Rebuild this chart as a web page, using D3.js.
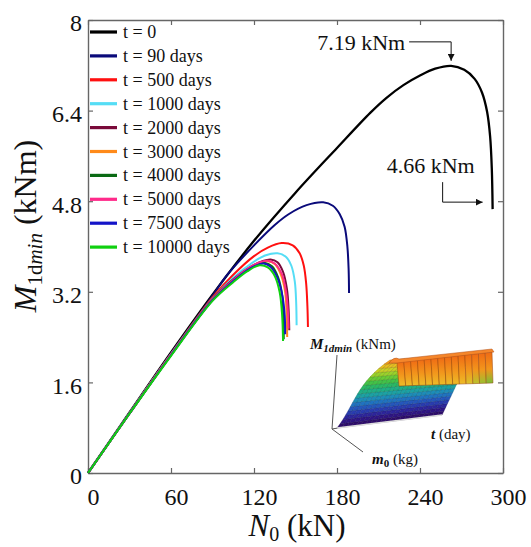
<!DOCTYPE html>
<html>
<head>
<meta charset="utf-8">
<script src="https://cdn.jsdelivr.net/npm/d3@7"></script>
<style>
  body { margin: 0; background: #fff; }
  svg { display: block; }
  text { font-family: "Liberation Serif", "Times New Roman", serif; fill: #111; }
</style>
</head>
<body>
<svg id="chart" width="531" height="547"></svg>
<script>
// tick values
const xTicks = [0, 60, 120, 180, 240, 300];
const yTicks = [0, 1.6, 3.2, 4.8, 6.4, 8];

// legend labels (in drawing order)
const labels = ['t = 0', 't = 90 days', 't = 500 days', 't = 1000 days', 't = 2000 days',
  't = 3000 days', 't = 4000 days', 't = 5000 days', 't = 7500 days', 't = 10000 days'];
const colors = ['#000000', '#0a0a7a', '#ff1010', '#55ddf5', '#7a0a3a',
  '#ff8a1a', '#0a6a14', '#ff2a8a', '#1414c8', '#10d010'];

// curves, [N0 (kN), M1dmin (kNm)]
const t0 = [[0,0],[30,1.07],[60,2.13],[90,3.15],[120,4.1],[150,4.95],[180,5.74],[204,6.36],
  [216,6.63],[228,6.85],[240,7.02],[251,7.14],[262.5,7.19],[272,7.12],[279.5,6.96],[284.8,6.72],
  [288.5,6.38],[290.7,5.94],[291.9,5.38],[292.5,4.66]];
const t90 = [[0,0],[30,1.06],[60,2.11],[90,3.13],[100,3.48],[120,4.02],[135,4.38],[145,4.57],
  [158,4.73],[170,4.78],[177,4.72],[182,4.57],[185.5,4.35],[187.5,4.0],[188.4,3.6],[188.7,3.18]];
const t500 = [[0,0],[30,1.06],[60,2.1],[90,3.1],[105,3.5],[120,3.83],[130,3.98],[140,4.06],
  [148,4.02],[153,3.88],[156,3.66],[157.7,3.35],[158.6,2.95],[159,2.58]];
const t1000 = [[0,0],[30,1.06],[60,2.1],[90,3.08],[105,3.45],[118,3.7],[128,3.84],[137,3.88],
  [143,3.82],[147,3.66],[149.5,3.38],[150.5,3.0],[150.8,2.61]];
const t2000 = [[0,0],[30,1.05],[60,2.09],[90,3.07],[105,3.42],[118,3.65],[126,3.74],[132,3.77],
  [137,3.72],[141,3.55],[143.8,3.25],[145,2.9],[145.5,2.52]];
const t3000 = [[0,0],[30,1.05],[60,2.09],[90,3.06],[105,3.4],[117,3.62],[124,3.71],[130,3.74],
  [135,3.69],[139.5,3.5],[142.5,3.2],[143.6,2.8],[144,2.4]];
const t4000 = [[0,0],[30,1.05],[60,2.08],[90,3.06],[105,3.4],[116,3.6],[122,3.68],[128,3.71],
  [133,3.65],[137.5,3.45],[140.3,3.15],[141.3,2.75],[141.5,2.36]];
const t5000 = [[0,0],[30,1.05],[60,2.09],[90,3.06],[105,3.41],[117,3.63],[124,3.72],[130,3.75],
  [135,3.7],[140,3.52],[143,3.22],[144.5,2.85],[145,2.55]];
const t7500 = [[0,0],[30,1.05],[60,2.08],[90,3.05],[105,3.39],[115,3.58],[121,3.66],[127,3.7],
  [132,3.64],[137,3.44],[140.6,3.12],[142.2,2.78],[142.5,2.45]];
const t10000 = [[0,0],[30,1.05],[60,2.07],[90,3.04],[105,3.37],[115,3.56],[124,3.67],[130,3.63],
  [135,3.48],[138.5,3.2],[140.3,2.8],[141,2.33]];
const series = [t0, t90, t500, t1000, t2000, t3000, t4000, t5000, t7500, t10000];

// annotations
const peakNote = { text: '7.19 kNm', N: 262.5, M: 7.19 };
const endNote = { text: '4.66 kNm', N: 292.5, M: 4.66 };

const serif = '"Liberation Serif", "Times New Roman", serif';
const svg = d3.select('#chart');
const x = d3.scaleLinear().domain([0, 300]).range([88, 503]);
const y = d3.scaleLinear().domain([0, 8]).range([473, 20]);

const frameColor = '#666';

// axes with inward ticks, on all four sides
const gx = svg.append('g').attr('transform', `translate(0,${y(0)})`)
  .call(d3.axisBottom(x).tickValues(xTicks).tickSize(-5).tickSizeOuter(0).tickPadding(15));
const gy = svg.append('g').attr('transform', `translate(${x(0)},0)`)
  .call(d3.axisLeft(y).tickValues(yTicks).tickSize(-5).tickSizeOuter(0).tickPadding(6)
    .tickFormat(d => d));
const gt = svg.append('g').attr('transform', `translate(0,${y(8)})`)
  .call(d3.axisTop(x).tickValues(xTicks).tickSize(-5).tickSizeOuter(0).tickFormat(''));
const gr = svg.append('g').attr('transform', `translate(${x(300)},0)`)
  .call(d3.axisRight(y).tickValues(yTicks).tickSize(-5).tickSizeOuter(0).tickFormat(''));

[gx, gy, gt, gr].forEach(g => {
  g.attr('font-family', serif).attr('font-size', 24);
  g.select('.domain').attr('stroke', frameColor).attr('stroke-width', 1.4);
  g.selectAll('.tick line').attr('stroke', frameColor).attr('stroke-width', 1.2);
  g.selectAll('.tick text').attr('fill', '#111').style('font-family', serif);
});
gx.selectAll('.tick text').attr('dx', 5);
gy.selectAll('.tick text').attr('dy', '0.45em');

// axis titles
const xt = svg.append('text').attr('x', 297).attr('y', 536)
  .attr('text-anchor', 'middle').attr('font-size', 31);
xt.append('tspan').attr('font-style', 'italic').text('N');
xt.append('tspan').attr('font-size', 20).attr('dy', 5).text('0');
xt.append('tspan').attr('dy', -5).text(' (kN)');

const yt = svg.append('text').attr('transform', 'translate(36,226) rotate(-90)')
  .attr('text-anchor', 'middle').attr('font-size', 32);
yt.append('tspan').attr('font-style', 'italic').text('M');
yt.append('tspan').attr('font-size', 21).attr('dy', 6).text('1d');
yt.append('tspan').attr('font-size', 21).attr('font-style', 'italic').text('min');
yt.append('tspan').attr('dy', -6).text(' (kNm)');

// curves
const line = d3.line()
  .x(d => x(d[0]))
  .y(d => y(d[1]))
  .curve(d3.curveCatmullRom.alpha(0.5));

svg.append('g').selectAll('path')
  .data(series)
  .join('path')
  .attr('d', line)
  .attr('fill', 'none')
  .attr('stroke', (d, i) => colors[i])
  .attr('stroke-width', (d, i) => i === 0 ? 2.3 : 2);

// legend
const lg = svg.append('g');
labels.forEach((lab, i) => {
  const ly = 32 + i * 23.9;
  lg.append('line').attr('x1', 90).attr('x2', 117).attr('y1', ly).attr('y2', ly)
    .attr('stroke', colors[i]).attr('stroke-width', 3.2);
  lg.append('text').attr('x', 123).attr('y', ly + 6).attr('font-size', 18).text(lab);
});

// annotation arrows
const defs = svg.append('defs');
defs.append('marker').attr('id', 'arr').attr('viewBox', '0 0 10 10')
  .attr('refX', 10).attr('refY', 5).attr('markerWidth', 7).attr('markerHeight', 7)
  .attr('orient', 'auto-start-reverse')
  .append('path').attr('d', 'M0,0 L10,5 L0,10 Z').attr('fill', '#111');

const px = x(peakNote.N), py = y(peakNote.M);
svg.append('text').attr('x', px - 46).attr('y', py - 16).attr('text-anchor', 'end')
  .attr('font-size', 22).text(peakNote.text);
svg.append('path')
  .attr('d', `M${px - 42},${py - 24} H${px} V${py - 5}`)
  .attr('fill', 'none').attr('stroke', '#111').attr('stroke-width', 1)
  .attr('marker-end', 'url(#arr)');

const ex = x(endNote.N), ey = y(endNote.M);
svg.append('text').attr('x', ex - 18).attr('y', ey - 36).attr('text-anchor', 'end')
  .attr('font-size', 22).text(endNote.text);
svg.append('path')
  .attr('d', `M${ex - 50},${ey - 27} V${ey - 7} H${ex - 10}`)
  .attr('fill', 'none').attr('stroke', '#111').attr('stroke-width', 1)
  .attr('marker-end', 'url(#arr)');

// inset: 3D surface sketch
const inset = svg.append('g');
const lerp = (a, b, t) => [a[0] + (b[0] - a[0]) * t, a[1] + (b[1] - a[1]) * t];
const heightColor = d3.interpolateRgbBasis(['#2d0a5e', '#30148c', '#2a3cb4', '#1f6ec8', '#1aa0b4',
  '#1cb47a', '#3cc43c', '#9ad628', '#f0d21e', '#f58a1a']);

// axes of the inset
inset.append('path').attr('d', 'M332,429 L337,355 M332,429 L363,452 M332,429 L338,428')
  .attr('stroke', '#555').attr('stroke-width', 1).attr('fill', 'none');

// sloped sheet: bottom edge BL-BR, top edge TL-TR (mostly hidden behind the wall)
const BL = [337, 428], BR = [442, 415], TL = [390, 360], TR = [471, 354];
const sheetPt = (u, v) => {
  const p = lerp(lerp(BL, BR, u), lerp(TL, TR, u), v);
  p[0] -= 48 * v * v * (1 - v) * (1 - u);
  return p;
};
const nu = 22, nv = 16;
for (let j = 0; j < nv; j++) {
  for (let i = 0; i < nu; i++) {
    const u0 = i / nu, u1 = (i + 1) / nu, v0 = j / nv, v1 = (j + 1) / nv;
    const pts = [sheetPt(u0, v0), sheetPt(u1, v0), sheetPt(u1, v1), sheetPt(u0, v1)];
    const c = heightColor((j + 0.5) / nv);
    inset.append('path').attr('d', 'M' + pts.join('L') + 'Z')
      .attr('fill', c).attr('stroke', d3.color(c).darker(1)).attr('stroke-width', 0.4);
  }
}
inset.append('path').attr('d', `M${BL}L${BR}`).attr('stroke', '#ddd').attr('stroke-width', 1.5);

// orange wall: corners BL, BR, TR, TL
const wall = [[399, 386], [493, 383], [492, 352], [397, 362]];
const nw = 14;
for (let i = 0; i < nw; i++) {
  const u0 = i / nw, u1 = (i + 1) / nw;
  const b0 = lerp(wall[0], wall[1], u0), b1 = lerp(wall[0], wall[1], u1);
  const t0p = lerp(wall[3], wall[2], u0), t1p = lerp(wall[3], wall[2], u1);
  const grad = defs.append('linearGradient').attr('id', 'wg' + i)
    .attr('x1', 0).attr('x2', 0).attr('y1', 0).attr('y2', 1);
  grad.append('stop').attr('offset', 0).attr('stop-color', '#f06a14');
  grad.append('stop').attr('offset', 0.55).attr('stop-color', '#f2961c');
  grad.append('stop').attr('offset', 1)
    .attr('stop-color', u0 < 0.7 ? '#ecbc28' : d3.interpolateRgb('#e0c42a', '#5cbc38')((u0 - 0.7) / 0.3));
  inset.append('path').attr('d', `M${t0p}L${t1p}L${b1}L${b0}Z`)
    .attr('fill', `url(#wg${i})`).attr('stroke', '#9a4410').attr('stroke-width', 0.5);
}
// top strip of the wall and the rounded hump at its left end
inset.append('path')
  .attr('d', `M${wall[3][0] - 8},${wall[3][1] + 1} Q${wall[3][0] - 3},${wall[3][1] - 6} ${wall[3][0] + 2},${wall[3][1] - 3}` +
    ` L${wall[2][0]},${wall[2][1] - 3} L${wall[2][0] + 2},${wall[2][1]} L${wall[3][0]},${wall[3][1] + 1} Z`)
  .attr('fill', '#f5862a').attr('stroke', '#b0501a').attr('stroke-width', 0.5);

// inset labels
const il = inset.append('text').attr('x', 310).attr('y', 349).attr('font-size', 15);
il.append('tspan').attr('font-weight', 'bold').attr('font-style', 'italic').text('M');
il.append('tspan').attr('font-size', 11).attr('dy', 3).attr('font-weight', 'bold').attr('font-style', 'italic').text('1dmin');
il.append('tspan').attr('dy', -3).text(' (kNm)');

const it = inset.append('text').attr('x', 431).attr('y', 439).attr('font-size', 15);
it.append('tspan').attr('font-weight', 'bold').attr('font-style', 'italic').text('t');
it.append('tspan').text(' (day)');

const im = inset.append('text').attr('x', 372).attr('y', 464).attr('font-size', 15);
im.append('tspan').attr('font-weight', 'bold').attr('font-style', 'italic').text('m');
im.append('tspan').attr('font-size', 11).attr('dy', 3).attr('font-weight', 'bold').text('0');
im.append('tspan').attr('dy', -3).text(' (kg)');
</script>
</body>
</html>
